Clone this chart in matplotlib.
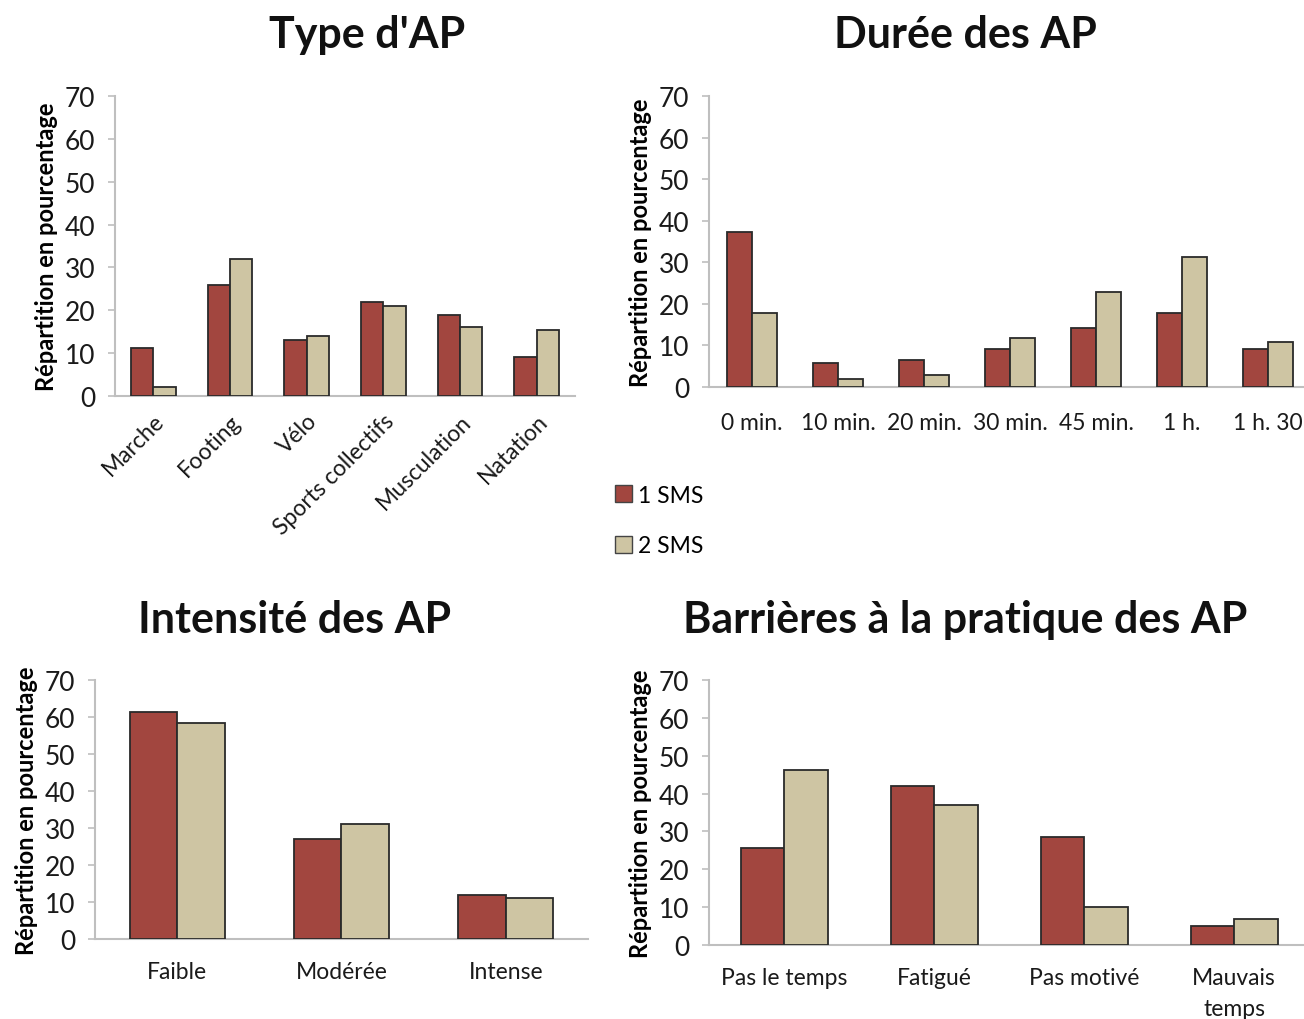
import matplotlib
matplotlib.use("Agg")
import matplotlib.pyplot as plt
import numpy as np
from matplotlib.patches import Patch

plt.rcParams['font.family'] = ['Lato', 'DejaVu Sans']

# data
type_cats = ["Marche", "Footing", "Vélo", "Sports collectifs", "Musculation", "Natation"]
type_1sms = [11.2, 26, 13, 22, 18.9, 9.1]
type_2sms = [2.1, 32, 14, 21.1, 16.2, 15.3]

duree_cats = ["0 min.", "10 min.", "20 min.", "30 min.", "45 min.", "1 h.", "1 h. 30"]
duree_1sms = [37.3, 5.8, 6.6, 9.2, 14.2, 17.8, 9.2]
duree_2sms = [17.8, 2.0, 3.0, 11.9, 22.9, 31.3, 10.9]

intens_cats = ["Faible", "Modérée", "Intense"]
intens_1sms = [61.3, 27, 12]
intens_2sms = [58.3, 31, 11]

barr_cats = ["Pas le temps", "Fatigué", "Pas motivé", "Mauvais\ntemps"]
barr_1sms = [25.5, 42, 28.5, 5]
barr_2sms = [46.2, 37, 10, 7]

red = "#A2463F"
beige = "#CEC5A3"
grey = "#BFBFBF"

W, H = 1304, 1020
fig = plt.figure(figsize=(W / 100, H / 100), dpi=100)


def px_axes(l, t, r, b):
    return fig.add_axes([l / W, 1 - b / H, (r - l) / W, (b - t) / H])


def draw(ax, cats, s1, s2):
    x = np.arange(len(cats))
    w = 0.29
    ax.bar(x - w / 2, s1, w, color=red, edgecolor="#2a2a2a", linewidth=1.3, zorder=3)
    ax.bar(x + w / 2, s2, w, color=beige, edgecolor="#2a2a2a", linewidth=1.3, zorder=3)
    ax.set_xlim(-0.5, len(cats) - 0.5)
    ax.set_ylim(0, 70)
    ax.set_yticks(range(0, 71, 10))
    ax.set_xticks(x)
    ax.set_xticklabels(cats, fontsize=16.5, color="#1a1a1a", linespacing=1.55)
    ax.tick_params(axis="y", labelsize=19, colors="#1a1a1a", length=5, color=grey, width=1.2, pad=9)
    ax.tick_params(axis="x", length=0, pad=16)
    for s in ("top", "right"):
        ax.spines[s].set_visible(False)
    for s in ("left", "bottom"):
        ax.spines[s].set_color(grey)
        ax.spines[s].set_linewidth(1.5)
    ax.set_ylabel("Répartition en pourcentage", fontsize=17, fontweight="bold", labelpad=5)


ax1 = px_axes(115, 97, 575, 397)
draw(ax1, type_cats, type_1sms, type_2sms)
ax1.set_xticklabels(type_cats, rotation=45, ha="right", rotation_mode="anchor", fontsize=16.5)
ax1.tick_params(axis="x", pad=10)

ax2 = px_axes(709, 97, 1311, 388)
draw(ax2, duree_cats, duree_1sms, duree_2sms)
ax2.tick_params(axis="x", pad=18)

ax3 = px_axes(95, 681, 588, 940)
draw(ax3, intens_cats, intens_1sms, intens_2sms)

ax4 = px_axes(709, 681, 1309, 946)
draw(ax4, barr_cats, barr_1sms, barr_2sms)

title_kw = dict(fontsize=31, fontweight="bold", ha="center", va="center", color="#111111")
fig.text(367 / W, 1 - 35 / H, "Type d'AP", **title_kw)
fig.text(965 / W, 1 - 35 / H, "Durée des AP", **title_kw)
fig.text(295 / W, 1 - 620 / H, "Intensité des AP", **title_kw)
fig.text(965 / W, 1 - 620 / H, "Barrières à la pratique des AP", **title_kw)

handles = [Patch(facecolor=red, edgecolor="#444444", label="1 SMS"),
           Patch(facecolor=beige, edgecolor="#444444", label="2 SMS")]
fig.legend(handles=handles, loc="upper left", bbox_to_anchor=(594 / W, 1 - 465 / H),
           frameon=False, fontsize=16.5, handlelength=0.75, handleheight=0.75,
           handletextpad=0.25, labelspacing=1.3)

fig.savefig("out.png", dpi=100)
